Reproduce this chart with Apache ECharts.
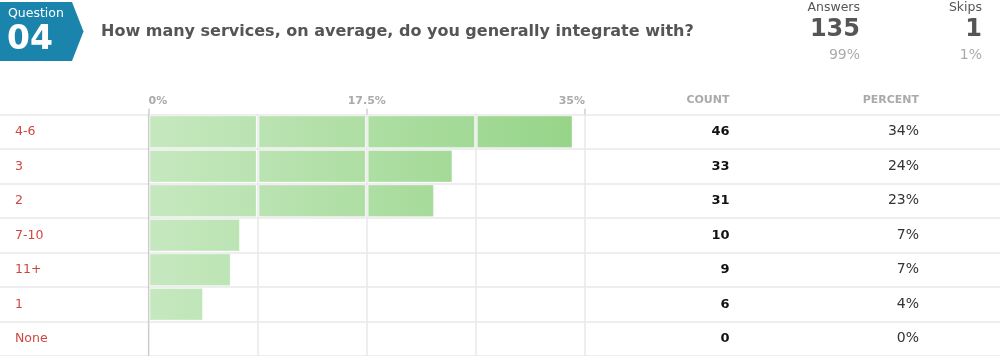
<!DOCTYPE html>
<html>
<head>
<meta charset="utf-8">
<script src="https://cdn.jsdelivr.net/npm/echarts@6/dist/echarts.min.js"></script>
<style>
html,body{margin:0;padding:0;background:#fff;}
#chart{width:1000px;height:356px;}
</style>
</head>
<body>
<div id="chart"></div>
<script>
const categories = ['4-6', '3', '2', '7-10', '11+', '1', 'None'];
const counts = [46, 33, 31, 10, 9, 6, 0];
const percentLabels = ['34%', '24%', '23%', '7%', '7%', '4%', '0%'];
const totalAnswers = 135;
const totalSkips = 1;
const answersPct = '99%';
const skipsPct = '1%';
const questionNo = '04';
const questionText = 'How many services, on average, do you generally integrate with?';
const axisMax = 35;
const gridStep = 8.75;
const labelStep = 17.5;
const gridTicks = [0, 8.75, 17.5, 26.25, 35];

const percents = counts.map(c => c / totalAnswers * 100);
const FONT = 'DejaVu Sans';

const chart = echarts.init(document.getElementById('chart'), null, {renderer: 'canvas'});

const GL = 148.5, GR = 415, GT = 114.5;

const option = {
  animation: false,
  textStyle: {fontFamily: FONT},
  grid: [
    {left: GL, right: GR, top: GT, bottom: 0, containLabel: false},
    {left: 0, right: 0, top: GT, bottom: 0, containLabel: false}
  ],
  xAxis: [
    {gridIndex: 0, type: 'value', position: 'top', min: 0, max: axisMax, interval: gridStep,
      axisLine: {show: false}, axisTick: {show: false}, axisLabel: {show: false},
      splitLine: {show: true, lineStyle: {color: '#e8e8e8', width: 1.5}}},
    {gridIndex: 0, type: 'value', position: 'top', min: 0, max: axisMax, interval: labelStep,
      axisLine: {show: false},
      axisTick: {show: true, length: 6, lineStyle: {color: '#cfcfcf', width: 1.5}},
      axisLabel: {show: true, margin: 8, color: '#aaaaaa', fontSize: 11, fontWeight: 'bold', fontFamily: FONT,
        formatter: v => v + '%', alignMinLabel: 'left', alignMaxLabel: 'right'},
      splitLine: {show: false}},
    {gridIndex: 1, type: 'value', show: false}
  ],
  yAxis: [
    {gridIndex: 0, type: 'category', data: categories, inverse: true, position: 'left',
      axisLine: {show: true, lineStyle: {color: '#cccccc', width: 1.2}},
      axisTick: {show: false},
      splitLine: {show: false},
      axisLabel: {margin: GL - 15, align: 'left', color: '#d2453f', fontSize: 12.5, fontFamily: FONT}},
    {gridIndex: 0, type: 'category', data: categories, inverse: true, position: 'right',
      axisLine: {show: false}, axisTick: {show: false}, splitLine: {show: false},
      axisLabel: {margin: 729.5 - (1000 - GR), align: 'right', color: '#111111', fontSize: 13, fontWeight: 'bold', fontFamily: FONT,
        formatter: (v, i) => String(counts[i])}},
    {gridIndex: 0, type: 'category', data: categories, inverse: true, position: 'right',
      axisLine: {show: false}, axisTick: {show: false}, splitLine: {show: false},
      axisLabel: {margin: 919 - (1000 - GR), align: 'right', color: '#333333', fontSize: 14, fontFamily: FONT,
        formatter: (v, i) => percentLabels[i]}},
    {gridIndex: 1, type: 'category', data: categories, inverse: true,
      axisLine: {show: false}, axisTick: {show: false}, axisLabel: {show: false},
      splitLine: {show: true, interval: 0, lineStyle: {color: '#eeeeee', width: 2}}}
  ],
  series: [{
    type: 'custom',
    xAxisIndex: 0, yAxisIndex: 0,
    z: 3,
    data: percents.map((p, i) => [p, i]),
    encode: {x: 0, y: 1},
    renderItem: function (params, api) {
      const v = api.value(0);
      const idx = api.value(1);
      const center = api.coord([0, idx]);
      const bandH = api.size([0, 1])[1];
      const x0g = api.coord([0, idx])[0];
      const x1g = api.coord([axisMax, idx])[0];
      const fill = new echarts.graphic.LinearGradient(x0g, 0, x1g, 0, [
        {offset: 0, color: '#c6e8bf'},
        {offset: 1, color: '#95d487'}
      ], true);
      const children = [];
      for (let s = 0; s < gridTicks.length - 1; s++) {
        const a = gridTicks[s];
        const b = Math.min(gridTicks[s + 1], v);
        if (b <= a) break;
        const p0 = api.coord([a, idx])[0] + 1.5;
        const p1 = api.coord([b, idx])[0] - 1.5;
        if (p1 <= p0) continue;
        children.push({
          type: 'rect',
          shape: {x: p0, y: center[1] - bandH / 2 + 1.6, width: p1 - p0, height: bandH - 3.2},
          style: {fill: fill, stroke: 'rgba(255,255,255,0.35)', lineWidth: 0.8}
        });
      }
      return {type: 'group', children: children};
    }
  }],
  graphic: [
    {type: 'polygon', shape: {points: [[0, 2], [72, 2], [83.5, 31.5], [72, 61], [0, 61]]},
      style: {fill: '#1a84ac'}},
    {type: 'text', x: 8, y: 14, style: {text: 'Question', fill: '#ffffff', font: '12.5px "DejaVu Sans"', verticalAlign: 'middle'}},
    {type: 'text', x: 7, y: 40, style: {text: questionNo, fill: '#ffffff', font: 'bold 33px "DejaVu Sans"', verticalAlign: 'middle'}},
    {type: 'text', x: 101, y: 32, style: {text: questionText, fill: '#555555', font: 'bold 16px "DejaVu Sans"', verticalAlign: 'middle'}},
    {type: 'text', x: 860, y: 8, style: {text: 'Answers', fill: '#555555', font: '12.5px "DejaVu Sans"', align: 'right', verticalAlign: 'middle'}},
    {type: 'text', x: 860, y: 30, style: {text: String(totalAnswers), fill: '#555555', font: 'bold 24px "DejaVu Sans"', align: 'right', verticalAlign: 'middle'}},
    {type: 'text', x: 860, y: 55, style: {text: answersPct, fill: '#aaaaaa', font: '14px "DejaVu Sans"', align: 'right', verticalAlign: 'middle'}},
    {type: 'text', x: 982, y: 8, style: {text: 'Skips', fill: '#555555', font: '12.5px "DejaVu Sans"', align: 'right', verticalAlign: 'middle'}},
    {type: 'text', x: 982, y: 30, style: {text: String(totalSkips), fill: '#555555', font: 'bold 24px "DejaVu Sans"', align: 'right', verticalAlign: 'middle'}},
    {type: 'text', x: 982, y: 55, style: {text: skipsPct, fill: '#aaaaaa', font: '14px "DejaVu Sans"', align: 'right', verticalAlign: 'middle'}},
    {type: 'text', x: 729.5, y: 100, style: {text: 'COUNT', fill: '#aaaaaa', font: 'bold 11px "DejaVu Sans"', align: 'right', verticalAlign: 'middle'}},
    {type: 'text', x: 919, y: 100, style: {text: 'PERCENT', fill: '#aaaaaa', font: 'bold 11px "DejaVu Sans"', align: 'right', verticalAlign: 'middle'}}
  ]
};
chart.setOption(option);
</script>
</body>
</html>
